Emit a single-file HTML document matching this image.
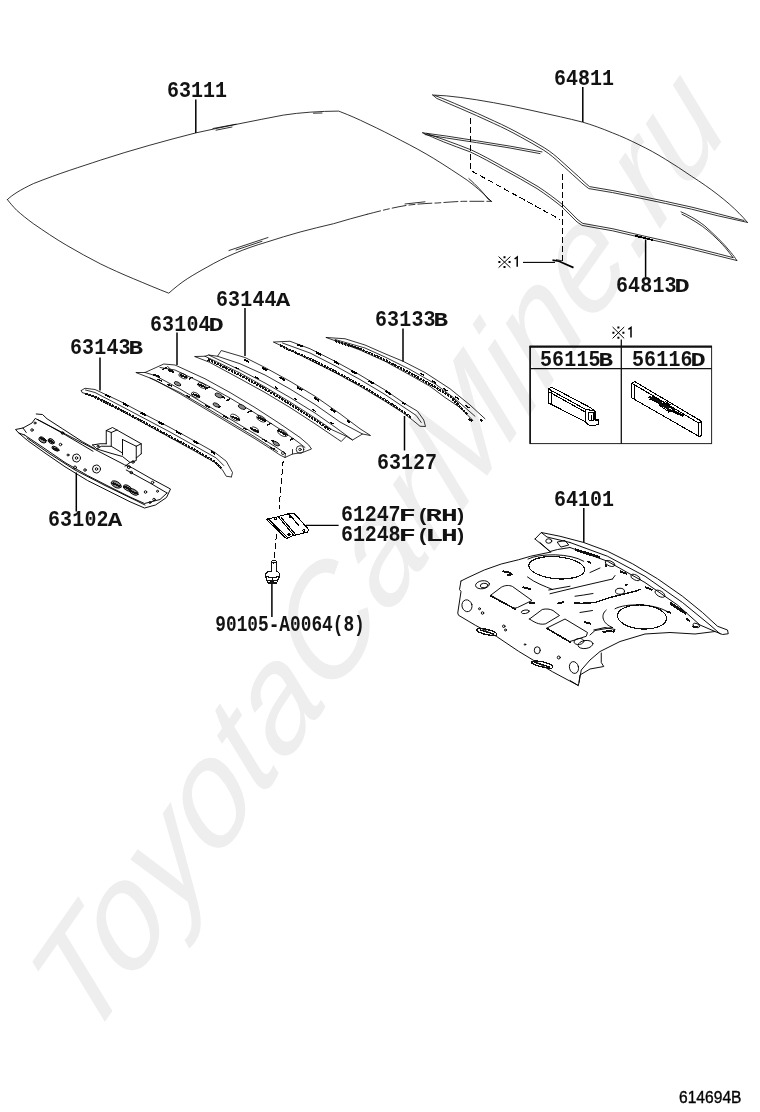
<!DOCTYPE html>
<html><head><meta charset="utf-8">
<style>
html,body{margin:0;padding:0;background:#fff;}
body{width:760px;height:1112px;overflow:hidden;position:relative;font-family:"Liberation Sans",sans-serif;}
svg{position:absolute;left:0;top:0;}
.lb{font-family:"Liberation Mono",monospace;font-weight:bold;font-size:20px;fill:#111;}
.wm{font-family:"Liberation Sans",sans-serif;font-style:italic;font-size:100px;fill:#eeeeee;}
.ln{stroke:#000;stroke-width:0.8;shape-rendering:crispEdges;fill:none;stroke-linecap:round;stroke-linejoin:round;}
.ld{stroke:#000;stroke-width:1.5;fill:none;}
.th{stroke:#333;stroke-width:0.8;fill:none;stroke-linecap:round;stroke-linejoin:round;}
.ds{stroke:#000;stroke-width:1;fill:none;stroke-dasharray:6 3;shape-rendering:crispEdges;}
.z path,.z ellipse,.z circle,.z line,.z polyline{vector-effect:non-scaling-stroke;}
.z{stroke:#000;stroke-width:0.8;shape-rendering:crispEdges;fill:none;stroke-linecap:round;stroke-linejoin:round;}
.hb{stroke:#111;stroke-width:2.3;stroke-dasharray:2.4 0.8;stroke-linecap:butt;}
.dk{stroke:#000;stroke-width:2;stroke-dasharray:6 14;stroke-linecap:butt;}
.dt{stroke:#111;stroke-width:2;stroke-linecap:butt;}
</style></head><body>
<svg width="760" height="1112" viewBox="0 0 760 1112">
<!-- watermark -->
<g id="wm"><text class="wm" transform="matrix(0.8128,-1.1608,0.9331,1.0438,87.9,1045.8)">ToyotaCarMine.ru</text></g>

<!-- roof panel 63111 -->
<g id="roof" class="ln">
<path d="M7.4,199.6 C12,195 20,190 33.4,183.6 C60,173 80,167 100.3,160.2 C133,149.5 166,140.5 196.2,132.8 C225,126.5 255,120.5 283.4,115.1 C300,112.5 320,111.2 338.6,111.1 L340.2,111.7 C350,115.5 358,119 367,123.4 C380,129.5 390,134.5 400.4,140.1 C412,146 424,152.5 433.8,158.5 C446,166 458,174 467.2,180.2 C475,186 482,192 491.3,201.3"/>
<path d="M468.9,178.6 C476,185 483,192 488,199 L491.3,201.3"/>
<path d="M7.4,199.6 C10,203 13,206.5 16.7,210.3 C22,215 27,219 33.4,223.7 C44,231 55,238.5 66.8,245.4 C78,252 89,258 100.3,263.8 C111,269 122,274 133.7,278.8 C146,284 158,289 168.8,293.2 C174,288.5 180,283.5 187.2,278.8 C194,274.5 200,271 207.2,267.1 C216,262 225,257.5 234,253.7 C245,249 255,245.5 266.7,242.1 C278,238.5 289,235 300.1,232 C311,229 322,226.5 333.6,223.7 C345,220.5 356,217 367,214.3"/>
<path d="M367,214.3 C380,211 393,207.5 407.1,205.3 C417,204 427,203.3 437.2,203 C446,202.3 455,201.6 463.9,201.3 L491.3,201.3" stroke-dasharray="14 3 6 3"/>
<path d="M213,128.5 L236,124.2 M216,130.2 L232,127"/>
<path d="M229,250.5 L268,237.5 M236,250 L262,241.3"/>
<path d="M313.5,113.2 L322,113"/>
<path d="M405,204 L425,201.8"/>
</g>
<!-- glass 64811 -->
<g id="glass" class="ln">
<path d="M432.7,95 C442,95.3 451,96.2 460.1,97.4 C471,98.8 482,100.6 493.6,102.7 C505,104.7 516,107 527,109.4 C538,111.8 549,114.3 560.4,116.8 C568,118.5 575,120.2 582.8,122.2 C592,124.8 602,128.5 612.6,132.9 C622,136.5 631,140.7 638.9,144.7 C648,149 657,154 665.3,159.2 C674,164.5 683,170.3 691.6,176.3 C701,182.3 710,188.5 717.9,194.7 C726,201 733,207 739,213.2 C742,216 745,219.5 747.4,222.4"/>
<path d="M432.7,95 L436.7,98.4 C444,101.5 452,105 460.1,108.4 C471,113 482,118 493.6,123.4 C503,127.6 512,132.2 520.3,136.8 C528,141 536,145.5 543.7,150.2 C550,154.2 555,158.5 560.4,163.6 C566,168.5 571,173.3 577.1,178.6 C581,182.3 585,185.8 588.8,188.6 L612.6,192.6 L638.9,197.9 L665.3,203.4 L691.6,209.2 L717.9,215.8 L747.4,222.4"/>
<path d="M435,95.6 C444,98.8 452,102.3 461,106.2 C472,110.8 483,115.8 494.5,121.2 C504,125.4 513,130 521.3,134.6 C529,138.8 537,143.3 544.7,148 C551,152 556.5,156.5 561.9,161.6 C567.5,166.5 572.5,171.3 578.6,176.6 C582.5,180.3 586,183.8 589.5,186.6 L612.9,190.6 L639.3,195.9 L665.7,201.4 L692,207.2 L718.3,213.8 L744,220.5"/>
</g>
<!-- moulding 64813D -->
<g id="mould" class="ln">
<path d="M422.7,132.8 L446.8,136.1 L476.8,140.8 L510.3,146.2 L542,151.9"/>
<path d="M425,134.6 L446.5,138 L476.5,142.6 L510,148 L540,153.6"/>
<path d="M422.7,132.8 C429,135.8 436,138.7 443.4,141.8 C452,145.2 461,148.5 470.2,151.9 C481,157 492,163 503.6,169.6 C515,175.8 526,182 537,188.6 C546,194.5 554,200.5 562.1,207 C567,212 572,217 577.1,222 L582.1,225.4 L612.6,230.8 L644.2,238.2 L665.3,242.9 L691.6,249.2 L717.9,255.8 L736.8,260.5"/>
<path d="M427,133.6 C433,135.8 439,138 445,140 C454,143.3 463,146.5 471.5,150 C482,155 493,161 504.6,167.6 C516,173.8 527,180 538,186.6 C547,192.5 555,198.5 563.1,205 C568,210 573,215 578.1,220 L582.8,223.4 L613,228.8 L644.6,236.2 L665.7,240.9 L692,247.2 L718.3,253.8 L733,257.6"/>
<path d="M736.8,260.5 C735,257.5 733,255 731,252.6 C727,247.5 722.5,242.8 717.9,238.2 C713.5,233.8 709,229.8 704.7,225.8 C700,222.3 696,219.5 691.6,217.1 C688,215 684.5,213.3 681,211.8"/>
<path d="M733,257.6 C731,254.8 729.5,253 728,251 C724.5,246.5 720.5,242.3 716,238 C711.5,233.6 707,229.8 702.5,226.4 C698,223.3 694,220.7 689.6,218.3 C687,216.8 684.5,215.3 682,214.2"/>
<path d="M636,236 L652,239.8" stroke-width="1.8"/>
</g>
<!-- dashed + note -->
<g id="dash">
<path class="ds" d="M470.2,118.4 L470.2,170.2 L560.4,219.7"/>
<path class="ds" d="M562.7,173.6 L562.7,260.5"/>
<path class="ld" d="M523,262.4 L555,262.4" style="stroke-width:1.1"/>
<path d="M552.5,260.2 L559,261.2 L573.5,267.6" stroke="#000" stroke-width="1.7" fill="none"/>
<path d="M556,259.6 L562,260.8" stroke="#000" stroke-width="0.8" fill="none"/>
</g>
<!-- leaders -->
<g id="leaders" class="ld">
<path d="M195.8,99.5 L195.8,133"/>
<path d="M582.8,87 L582.8,122"/>
<path d="M645.6,239.5 L645.6,277"/>
</g>

<!-- 63102A front header (4x zoom coords, origin 0,395) -->
<g id="p63102" class="z" transform="translate(0,395) scale(0.25)" style="stroke-width:0.95">
<path d="M145,76 L170,78 L188,95 L250,135 L330,187 L378,214"/>
<path d="M500,280 L530,292 L600,332 L682,376 L666,410 L622,440 L578,452 L520,427 L440,387 L350,342 L260,287 L180,232 L110,182 L75,152 L62,138 L92,132 L128,112 L140,95 Z"/>
<path d="M150,98 L200,125 L262,160 L330,200 L372,225"/>
<path d="M505,300 L600,352 L668,392"/>
<path d="M98,160 L180,215 L260,270 L350,322 L440,368 L520,408 L578,434 L640,418 L668,392"/>
<path d="M108,172 L200,236 L300,300 L420,362 L540,420 L580,440"/>
<path d="M75,152 L98,160 M92,132 L105,150"/>
<ellipse cx="170" cy="180" rx="16" ry="10" transform="rotate(32 170 180)" fill="#8a8a8a"/>
<ellipse cx="205" cy="185" rx="14" ry="9" transform="rotate(32 205 185)" fill="#8a8a8a"/>
<ellipse cx="222" cy="215" rx="16" ry="7" transform="rotate(28 222 215)" fill="#8a8a8a"/>
<path class="dt" d="M160,170 L185,185 M195,180 L215,192 M210,212 L236,222"/>
<circle cx="306" cy="252" r="16"/><circle cx="306" cy="252" r="5"/>
<circle cx="386" cy="296" r="16"/><circle cx="386" cy="296" r="5"/>
<circle cx="300" cy="290" r="6"/><circle cx="340" cy="300" r="5"/>
<circle cx="250" cy="152" r="5"/><circle cx="242" cy="198" r="5"/><circle cx="272" cy="240" r="4"/>
<circle cx="128" cy="140" r="5"/><circle cx="140" cy="112" r="4"/>
<ellipse cx="465" cy="358" rx="22" ry="12" transform="rotate(28 465 358)" fill="#8a8a8a"/>
<ellipse cx="510" cy="372" rx="18" ry="10" transform="rotate(28 510 372)" fill="#8a8a8a"/>
<ellipse cx="535" cy="388" rx="20" ry="10" transform="rotate(28 535 388)" fill="#8a8a8a"/>
<path class="dt" d="M450,352 L482,366 M498,366 L525,380 M522,384 L552,396"/>
<circle cx="582" cy="388" r="5"/><circle cx="610" cy="350" r="5"/><circle cx="630" cy="385" r="4"/><circle cx="616" cy="418" r="5"/><circle cx="600" cy="430" r="4"/>
<circle cx="525" cy="310" r="5"/><circle cx="515" cy="288" r="6"/>
<!-- bracket -->
<path d="M425,195 L425,142 L450,130 L565,195 L565,235"/>
<path d="M425,142 L445,150 L445,205 M445,150 L468,140"/>
<path d="M490,178 L490,240 M545,205 L545,252 L565,235 M545,205 L565,195 M490,178 L545,205"/>
<path d="M370,200 L400,195 L425,195 M370,200 L388,216 L440,232 L490,246 L520,270 L545,262 L545,252"/>
<path d="M388,216 L405,205 L445,205 L490,232"/>
<path d="M500,285 L520,270"/>
<circle cx="392" cy="205" r="4"/><circle cx="532" cy="268" r="5"/>
</g>
<!-- 63143B bow (4x zoom coords, origin 70,350) -->
<g id="p63143" class="z" transform="translate(70,350) scale(0.25)">
<path d="M45,162 L60,153 L100,158 L200,205 L300,258 L400,310 L500,365 L580,410 L625,445 L650,490 L646,506"/>
<path d="M45,162 L48,170 L100,187 L200,240 L300,295 L400,350 L500,405 L580,450 L610,480 L625,505 L646,508"/>
<path d="M62,160 L100,170 L200,222 L300,275 L400,328 L500,384 L585,432 L615,462"/>
<path class="hb" d="M62,174 L100,188 L200,238 L300,292 L400,346 L500,400 L578,446 L606,474"/>
<path class="dk" d="M140,178 L200,207 L300,259 L400,312 L500,367 L580,415"/>
</g>
<!-- 63104D panel (4x zoom coords, origin 130,330) -->
<g id="p63104" class="z" transform="translate(130,330) scale(0.25)">
<path d="M25,170 L60,170 L135,136 L180,140 L300,195 L400,250 L500,310 L600,375 L680,430 L715,460 L726,476 L690,490 L650,496 L620,510 L600,500 L570,480 L500,435 L400,375 L300,315 L200,255 L100,200 Z"/>
<path d="M120,150 L180,160 L300,217 L400,272 L500,332 L600,397 L672,448 L700,470"/>
<path d="M60,170 L100,182 L200,236 L300,296 L400,356 L500,416 L580,466 L622,494"/>
<path d="M80,192 L200,250 L300,308 L400,368 L500,428 L590,486"/>
<path d="M150,145 L170,165 M622,494 L620,510 M650,478 L650,496"/>
<circle cx="680" cy="478" r="15"/><circle cx="680" cy="478" r="5"/>
<circle cx="612" cy="492" r="6"/>
<g class="dt">
<path d="M152,160 L175,168 M200,180 L228,190 M270,215 L300,228 M350,258 L380,272 M435,302 L462,318 M510,348 L545,366 M590,400 L625,420"/>
<path d="M92,178 L120,188 M180,212 L205,222 M250,255 L280,268 M335,296 L362,310 M405,345 L440,360 M480,392 L515,408 M565,440 L590,455"/>
</g>
<ellipse cx="212" cy="184" rx="18" ry="9" transform="rotate(25 212 184)"/>
<ellipse cx="288" cy="222" rx="18" ry="9" transform="rotate(25 288 222)"/>
<ellipse cx="262" cy="260" rx="18" ry="9" transform="rotate(25 262 260)"/>
<ellipse cx="420" cy="350" rx="20" ry="10" transform="rotate(28 420 350)"/>
<ellipse cx="525" cy="355" rx="20" ry="10" transform="rotate(28 525 355)"/>
<ellipse cx="610" cy="412" rx="22" ry="11" transform="rotate(30 610 412)"/>
<ellipse cx="500" cy="398" rx="16" ry="8" transform="rotate(28 500 398)"/>
<g class="dt" style="stroke-width:1.5">
<path d="M130,158 L150,150 M236,196 L250,188 M300,236 L322,226 M385,284 L400,275 M470,330 L488,322 M548,380 L566,372 M640,440 L655,432"/>
<path d="M110,196 L128,204 M150,218 L170,226 M225,262 L240,270 M300,300 L320,310 M372,342 L392,352 M455,392 L470,400 M530,436 L548,446 M560,470 L580,478"/>
</g>
<ellipse cx="355" cy="262" rx="16" ry="8" transform="rotate(25 355 262)" fill="#8a8a8a"/>
<ellipse cx="345" cy="300" rx="14" ry="7" transform="rotate(25 345 300)" fill="#8a8a8a"/>
<ellipse cx="448" cy="308" rx="16" ry="8" transform="rotate(25 448 308)" fill="#8a8a8a"/>
<ellipse cx="190" cy="215" rx="14" ry="7" transform="rotate(25 190 215)" fill="#8a8a8a"/>
<ellipse cx="585" cy="455" rx="14" ry="7" transform="rotate(28 585 455)" fill="#8a8a8a"/>

</g>
<!-- 63144A bow (4x zoom coords, origin 190,330) -->
<g id="p63144" class="z" transform="translate(190,330) scale(0.25)">
<path d="M20,106 L60,105 L75,100 L110,105 L125,82 L220,110 L300,150 L400,205 L500,265 L600,335 L680,395 L722,422 L690,416 L650,440 L625,425 L605,446 L590,436 L500,375 L400,310 L300,250 L200,195 L80,130 Z"/>
<path d="M110,105 L200,135 L300,180 L400,236 L500,298 L600,368 L690,416"/>
<path d="M75,100 L200,160 L300,212 L400,270 L500,332 L580,388 L650,440"/>
<path d="M60,105 L200,172 L300,228 L400,288 L500,352 L570,400 L625,425"/>
<path class="hb" d="M72,118 L200,180 L300,236 L400,296 L500,360 L562,402"/>
<path class="dk" d="M215,118 L300,157 L400,212 L500,272 L600,342 L640,370"/>
<path class="dk" d="M180,150 L300,205 L400,262 L500,324 L600,395" style="stroke-width:1.3;stroke-dasharray:4 18"/>
</g>
<!-- 63127 bow (4x zoom coords, origin 260,320) -->
<g id="p63127" class="z" transform="translate(260,320) scale(0.25)">
<path d="M55,88 L120,85 L200,115 L300,165 L400,220 L500,280 L580,335 L630,365 L655,400 L662,426 L640,425 L610,400 L570,370 L500,325 L400,265 L300,210 L200,160 L100,110 Z"/>
<path d="M90,92 L200,132 L300,183 L400,238 L500,298 L580,352 L625,382 L645,410"/>
<path class="hb" d="M80,102 L200,156 L300,206 L400,260 L500,320 L570,365 L606,392"/>
<path class="dk" d="M150,98 L200,117 L300,167 L400,222 L500,282 L580,337"/>
</g>
<!-- 63133B bow (4x zoom coords, origin 260,320) -->
<g id="p63133" class="z" transform="translate(260,320) scale(0.25)">
<path d="M265,70 L340,75 L420,100 L500,135 L572,165 L660,210 L760,275 L840,340 L900,395"/>
<path d="M265,70 L320,90 L400,120 L500,165 L600,220 L680,265 L740,310 L800,350 L850,400"/>
<path d="M300,78 L420,112 L500,148 L600,198 L700,255 L780,315 L860,385"/>
<path class="hb" d="M300,84 L400,116 L500,160 L600,212 L700,268 L760,305 L830,378"/>
<path class="dt" d="M835,396 L850,404 M880,400 L890,404" style="stroke-width:2.2"/>
<path class="dk" d="M640,212 L700,250 L780,305 L840,355" style="stroke-dasharray:5 9;stroke-width:1.3"/>
</g>

<!-- more leaders -->
<g id="leaders2" class="ld">
<path d="M100,357.5 L100,390.5"/>
<path d="M177,332.5 L177,365"/>
<path d="M245,308 L245,356"/>
<path d="M403,328.5 L403,361.5"/>
<path d="M404.5,416 L404.5,450.5"/>
<path d="M76.3,472.5 L76.3,511.5"/>
<path d="M306,525.3 L338.6,525.3" stroke-width="1.2"/>
<path d="M271.9,583.4 L271.9,617"/>
<path d="M583.8,508 L583.8,542.5"/>
</g>
<!-- dashed from 63104D to bracket to bolt -->
<g id="dash2">
<path class="ds" d="M283.2,460.5 L279,509 M276.5,534 L274.2,559.5" stroke-dasharray="5 2.5"/>
</g>
<!-- bracket 61247F (5.846x zoom coords origin 230,450) -->
<g id="p61247" class="z" transform="translate(230,450) scale(0.17105)" style="stroke-width:1.1">
<path d="M212,405 L282,390 L372,498 L330,518 Z"/>
<path d="M305,382 L375,370 L460,465 L452,480 L385,497"/>
<path d="M282,390 L305,382 M372,498 L385,497"/>
<path d="M220,400 L330,505 M300,395 L380,490"/>
<path d="M318,378 L345,372 L400,440 M345,372 L360,395"/>
<circle cx="268" cy="402" r="7"/><circle cx="352" cy="388" r="6"/><circle cx="345" cy="495" r="6"/><circle cx="432" cy="472" r="6"/>
</g>
<!-- bolt (5.846x zoom coords origin 230,450) -->
<g id="bolt" class="z" transform="translate(230,450) scale(0.17105)" style="stroke:#111;stroke-width:1.2">
<path d="M244,652 C244,644 270,644 270,652 L270,708 M244,652 L244,708 M244,656 C250,662 264,662 270,656"/>
<path d="M236,708 C215,712 205,722 208,734 C215,748 280,748 290,734 C294,722 282,712 270,708"/>
<path d="M208,734 L215,760 L222,778 L272,778 L282,758 L290,734"/>
<path d="M215,760 C235,768 262,768 282,758 M248,748 L248,778"/>
</g>
<!-- note box -->
<g id="box">
<rect x="530" y="346.6" width="181.6" height="97" fill="none" stroke="#222" stroke-width="1"/>
<path d="M529.5,346.6 L712,346.6" stroke="#111" stroke-width="2.2" fill="none"/>
<path d="M530.2,346 L530.2,443.8" stroke="#111" stroke-width="1.5" fill="none"/>
<path d="M530,368.7 L711.6,368.7" stroke="#111" stroke-width="1.3" fill="none"/>
<path d="M621.3,339.5 L621.3,443.8" stroke="#111" stroke-width="1.3" fill="none"/>
</g>
<!-- 56115B part (3.8x zoom coords origin 520,320) -->
<g id="p56115" class="z" transform="translate(520,320) scale(0.26316)" style="stroke-width:1.05">
<path d="M108,262 L120,255 L262,330 L285,345 L285,380 L300,380 L298,398 L265,402 L245,385 L108,315 Z"/>
<path d="M108,262 L250,340 L285,345 M250,340 L250,385"/>
<path d="M118,268 L118,318 M108,272 L245,348"/>
<path d="M262,352 L278,352 L278,382 L262,380 Z M270,362 L270,382"/>
</g>
<!-- 56116D part (3.8x zoom coords origin 520,320) -->
<g id="p56116" class="z" transform="translate(520,320) scale(0.26316)" style="stroke-width:1.05">
<path d="M425,240 L436,234 L690,385 L690,440 L680,442 L425,296 Z"/>
<path d="M425,240 L680,392 L690,385 M680,392 L680,442"/>
<path d="M434,246 L434,298"/>
<path class="dt" d="M488,292 L520,302 L540,322 L575,332 L590,350 L620,364" style="stroke-width:2.4"/><path class="dt" d="M500,300 L530,318 L565,340 L600,356" style="stroke-width:1.6"/>
<path d="M490,300 L520,310 L535,328 L560,345 L600,352 L620,364 M505,290 L545,312 L582,338 M540,322 L552,310 L572,322 M565,350 L580,340 L600,358"/>
</g>
<!-- ※1 marks -->
<g id="notes" stroke="#000" stroke-width="1" fill="none">
<path d="M498.6,256.6 L510.4,267.6 M510.4,256.6 L498.6,267.6"/>
<path d="M504.5,256.2 L504.5,258.2 M504.5,266 L504.5,268 M498.4,262.1 L500.4,262.1 M508.6,262.1 L510.6,262.1" stroke-width="2"/>
<path d="M514.6,259 L517.2,257 L517.2,266.8" stroke-width="1.5"/>
<path d="M612.6,327 L624.2,338.4 M624.2,327 L612.6,338.4"/>
<path d="M618.4,326.6 L618.4,328.6 M618.4,336.8 L618.4,338.8 M612.4,332.7 L614.4,332.7 M622.4,332.7 L624.4,332.7" stroke-width="2"/>
<path d="M628.4,329.4 L631,327.4 L631,337.6" stroke-width="1.5"/>
</g>

<!-- 64101 package tray (4x zoom coords, origin 440,510) -->
<g id="p64101" class="z" transform="translate(440,510) scale(0.25)" style="stroke-width:0.95">
<!-- outer -->
<path d="M84,284 L108,272 L177,240 L245,216 L314,199 L362,185 L444,168"/>
<path d="M84,284 L78,318 L84,326 L71,412 L74,421 L143,462 L225,505 L314,565 L382,606 L450,647 L519,684 L553,702 L556,690 L560,660 L600,636 L655,626 L645,610 L645,572"/>
<path d="M553,702 L520,682"/>
<path d="M380,116 L405,90 L480,105 L575,130 L670,165 L770,215 L870,275 L970,345 L1050,410 L1110,465 L1150,480 L1153,495 L1130,498 L1100,486 L1020,496 L920,490 L820,496 L720,526 L640,566 L600,600 L565,640 L556,690"/>
<path d="M380,116 L440,166 L470,158 L520,150 M405,90 L428,108 L520,130"/>
<path d="M520,130 L670,185 L820,265 L970,370 L1080,460 L1120,495"/>
<path d="M520,150 L670,205 L820,290 L950,380 L1040,460 L1100,486"/>
<path d="M440,166 L400,130"/>
<!-- speaker holes -->
<ellipse cx="467" cy="231" rx="112" ry="44" transform="rotate(5 467 231)" style="stroke:#111;stroke-width:1.2"/>
<path d="M352,196 C400,172 520,172 575,205 M350,268 C380,292 420,305 450,318"/>
<ellipse cx="808" cy="428" rx="98" ry="48" transform="rotate(4 808 428)" style="stroke:#111;stroke-width:1.2"/>
<path d="M700,395 C740,372 860,372 915,410 M665,400 C640,420 650,455 690,470 M690,470 L620,482 L600,500"/>
<!-- cutouts -->
<path d="M204,340 L245,309 C262,300 276,300 290,306 L368,362 L310,390 C300,394 292,392 282,386 Z"/>
<path d="M204,344 L300,396" style="stroke:#111;stroke-width:1.6"/>
<path d="M358,436 L409,398 C425,394 440,396 452,402 L478,422 L423,455 C405,460 385,455 358,436 Z"/>
<path d="M428,472 L500,436 L590,490 L585,505 L520,526 Z"/>
<path d="M428,474 L520,528" style="stroke:#111;stroke-width:1.6"/>
<!-- holes -->
<ellipse cx="108" cy="383" rx="20" ry="24" transform="rotate(-15 108 383)"/>
<ellipse cx="170" cy="299" rx="28" ry="16" transform="rotate(-8 170 299)"/>
<ellipse cx="176" cy="302" rx="15" ry="9" transform="rotate(-8 176 302)"/>
<ellipse cx="341" cy="407" rx="16" ry="7" transform="rotate(-10 341 407)"/>
<ellipse cx="536" cy="630" rx="18" ry="24" transform="rotate(-15 536 630)"/>
<ellipse cx="582" cy="538" rx="30" ry="16" transform="rotate(-8 582 538)"/>
<ellipse cx="556" cy="526" rx="20" ry="12" transform="rotate(-8 556 526)"/>
<ellipse cx="389" cy="561" rx="12" ry="14"/>
<circle cx="170" cy="412" r="5"/><circle cx="158" cy="395" r="4"/><circle cx="255" cy="465" r="5"/><circle cx="262" cy="480" r="4"/><circle cx="475" cy="590" r="6"/><circle cx="340" cy="538" r="3"/>
<ellipse cx="435" cy="124" rx="12" ry="9"/>
<ellipse cx="680" cy="214" rx="20" ry="10" transform="rotate(20 680 214)"/>
<ellipse cx="782" cy="270" rx="20" ry="10" transform="rotate(25 782 270)"/>
<ellipse cx="880" cy="335" rx="22" ry="11" transform="rotate(30 880 335)"/>
<ellipse cx="720" cy="325" rx="18" ry="12"/>
<ellipse cx="1025" cy="462" rx="14" ry="8" transform="rotate(20 1025 462)"/>
<path d="M470,128 L500,122 L515,140 L485,148 Z"/>
<!-- tabs -->
<g style="stroke:#111;stroke-width:1.3">
<path d="M148,476 C160,470 200,478 222,490 C232,498 225,506 212,502 C190,500 160,492 148,484 Z M160,480 L215,496"/>
<path d="M368,606 C390,600 430,610 450,622 C455,632 445,636 432,632 C410,630 380,620 368,614 Z M380,610 L440,628"/>
</g>
<!-- creases & dark marks -->
<path d="M440,335 L560,306 L690,276 M435,320 L520,305 M690,276 L700,262 M600,250 L640,232"/>
<path d="M540,375 L620,370 L680,350 L780,325 L800,318" style="stroke:#111;stroke-width:1.5"/>
<path d="M540,345 L575,340 L612,334"/>
<path d="M615,480 L660,470 L700,478 M560,410 L610,402"/>
<g class="dt">
<path d="M250,245 L285,252 M270,262 L290,256 M330,308 L365,318 M355,370 L380,372 M470,375 L495,368 M535,372 L560,372 M575,448 L605,455 M650,488 L690,482 M690,490 L700,478"/>
<path d="M540,158 L640,190" style="stroke-width:2.6"/>
<path d="M590,205 L605,212 M660,220 L668,226 M720,245 L748,256 M820,308 L850,320 M740,298 L750,300"/>
<path d="M920,372 L985,415" style="stroke-width:2.6"/>
<path d="M905,405 L925,412 M985,435 L1000,445 M1010,465 L1030,470"/>
</g>
</g>
<!-- labels -->
<g id="labels" opacity="0.99">
<text transform="translate(679,1103) scale(1,1.02)" style="font-family:'Liberation Sans',sans-serif;font-size:15.4px;fill:#000;stroke:#000;stroke-width:0.35" textLength="62.5" lengthAdjust="spacingAndGlyphs">614694B</text>
<text class="lb" transform="translate(215.3,631) scale(1,1.08)" textLength="149.5" lengthAdjust="spacingAndGlyphs">90105-A0064(8)</text>
<text class="lb" transform="translate(167,96.5) scale(1,1.08)" textLength="60.00">63111</text>
<text class="lb" transform="translate(554,84.5) scale(1,1.08)" textLength="60.00">64811</text>
<text class="lb" transform="translate(377,469.5) scale(1,1.08)" textLength="60.00">63127</text>
<text class="lb" transform="translate(554,505.5) scale(1,1.08)" textLength="60.00">64101</text>
<text class="lb" transform="translate(616,291.5) scale(1,1.08)" textLength="60.50">64813</text>
<text class="lb" transform="translate(674.56,291.5) scale(1.265,0.98)">D</text>
<text class="lb" transform="translate(216,305.5) scale(1,1.08)" textLength="60.50">63144</text>
<text class="lb" transform="translate(275.81,305.5) scale(1.210,0.98)">A</text>
<text class="lb" transform="translate(150,331) scale(1,1.08)" textLength="60.50">63104</text>
<text class="lb" transform="translate(208.56,331) scale(1.265,0.98)">D</text>
<text class="lb" transform="translate(70,353.5) scale(1,1.08)" textLength="60.50">63143</text>
<text class="lb" transform="translate(128.62,353.5) scale(1.216,0.98)">B</text>
<text class="lb" transform="translate(375,325.5) scale(1,1.08)" textLength="60.50">63133</text>
<text class="lb" transform="translate(433.62,325.5) scale(1.216,0.98)">B</text>
<text class="lb" transform="translate(48,525.5) scale(1,1.08)" textLength="60.50">63102</text>
<text class="lb" transform="translate(107.81,525.5) scale(1.210,0.98)">A</text>
<text class="lb" transform="translate(540,366) scale(1,1.08)" textLength="60.50">56115</text>
<text class="lb" transform="translate(598.62,366) scale(1.216,0.98)">B</text>
<text class="lb" transform="translate(632,366) scale(1,1.08)" textLength="60.50">56116</text>
<text class="lb" transform="translate(690.56,366) scale(1.265,0.98)">D</text>
<text class="lb" transform="translate(341,521.3) scale(1,1.08)" textLength="59.50">61247</text>
<text class="lb" transform="translate(398.71,521.3) scale(1.429,0.92)">F</text>
<text class="lb" transform="translate(416.59,521.3) scale(1.091,0.95)">(</text>
<text class="lb" transform="translate(425.61,521.3) scale(1.377,0.88)">R</text>
<text class="lb" transform="translate(440.98,521.3) scale(1.398,0.88)">H</text>
<text class="lb" transform="translate(454.35,521.3) scale(1.018,0.95)">)</text>
<text class="lb" transform="translate(341,540.6) scale(1,1.08)" textLength="59.50">61248</text>
<text class="lb" transform="translate(398.71,540.6) scale(1.429,0.92)">F</text>
<text class="lb" transform="translate(416.59,540.6) scale(1.091,0.95)">(</text>
<text class="lb" transform="translate(424.94,540.6) scale(1.537,0.88)">L</text>
<text class="lb" transform="translate(440.98,540.6) scale(1.398,0.88)">H</text>
<text class="lb" transform="translate(454.35,540.6) scale(1.018,0.95)">)</text>
</g>
</svg>
</body></html>
